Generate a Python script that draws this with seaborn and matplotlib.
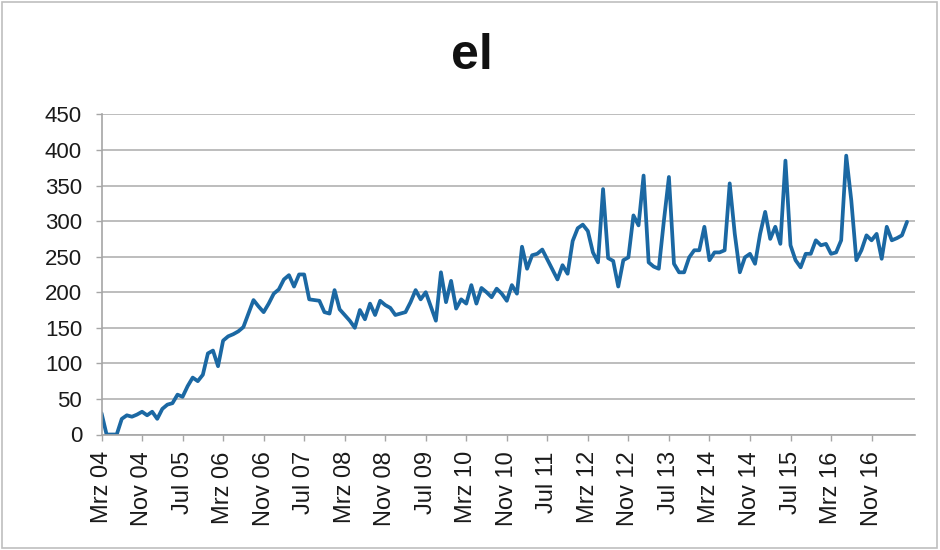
import pandas as pd
import matplotlib
matplotlib.use('Agg')
import matplotlib.pyplot as plt
import seaborn as sns
from matplotlib.patches import Rectangle

# monatswerte ab Mrz 04
werte = [30, 0, 0, 0, 22, 27, 25, 28, 32, 27,
         32, 22, 36, 42, 44, 56, 53, 68, 80, 75,
         84, 114, 118, 96, 132, 138, 141, 145, 151, 170,
         189, 180, 172, 184, 198, 204, 218, 224, 208, 225,
         225, 190, 189, 188, 172, 170, 203, 176, 168, 160,
         150, 175, 162, 184, 168, 188, 182, 178, 168, 170,
         172, 186, 203, 190, 200, 180, 160, 228, 186, 216,
         177, 190, 184, 210, 184, 206, 200, 193, 205, 198,
         188, 210, 198, 264, 233, 252, 254, 260, 246, 232,
         218, 238, 226, 272, 290, 295, 286, 256, 242, 345,
         248, 244, 208, 245, 249, 308, 294, 364, 242, 236,
         233, 300, 362, 240, 228, 228, 249, 259, 259, 292,
         245, 256, 256, 259, 353, 282, 228, 249, 254, 240,
         282, 313, 275, 292, 268, 385, 266, 245, 235, 254,
         254, 273, 266, 268, 254, 256, 273, 392, 329, 245,
         259, 280, 273, 282, 247, 292, 273, 276, 280, 299]

tick_labels = ['Mrz 04', 'Nov 04', 'Jul 05', 'Mrz 06', 'Nov 06', 'Jul 07',
               'Mrz 08', 'Nov 08', 'Jul 09', 'Mrz 10', 'Nov 10', 'Jul 11',
               'Mrz 12', 'Nov 12', 'Jul 13', 'Mrz 14', 'Nov 14', 'Jul 15',
               'Mrz 16', 'Nov 16']
y_ticks = [0, 50, 100, 150, 200, 250, 300, 350, 400, 450]

dados = pd.DataFrame({'monat': range(len(werte)), 'wert': werte})

sns.set_style('white')
plt.rcParams['font.family'] = ['Liberation Sans', 'DejaVu Sans']

fig = plt.figure(figsize=(9.4, 5.5), dpi=100)
ax = fig.add_axes([0.108, 0.21, 0.865, 0.582])

sns.lineplot(data=dados, x='monat', y='wert', ax=ax, color='#1b68a3', linewidth=2.7)

ax.set_xlim(0, 160.5)
ax.set_ylim(0, 450)
ax.set_yticks(y_ticks)
ax.set_xticks(range(0, 8 * len(tick_labels), 8))
ax.set_xticklabels(tick_labels, rotation=90)
ax.set_xlabel('')
ax.set_ylabel('')

ax.grid(axis='y', color='#bdbdbd', linewidth=1.4)
ax.set_axisbelow(True)
for s in ['top', 'right']:
    ax.spines[s].set_visible(False)
ax.spines['left'].set_color('#a6a6a6')
ax.spines['bottom'].set_color('#a6a6a6')
ax.spines['left'].set_linewidth(1.2)
ax.spines['bottom'].set_linewidth(1.2)
ax.tick_params(axis='y', length=4, width=1, color='#a6a6a6', pad=10, labelsize=16, labelcolor='#1a1a1a')
ax.tick_params(axis='x', length=4, width=1, color='#a6a6a6', pad=8, labelsize=17, labelcolor='#1a1a1a', direction='out')
ax.tick_params(left=True, bottom=True)

fig.text(0.502, 0.898, 'el', ha='center', va='center', fontsize=36, fontweight='bold', color='#111111')

# rahmen um die grafik
fig.patches.append(Rectangle((0.002, 0.004), 0.995, 0.992, transform=fig.transFigure,
                             fill=False, edgecolor='#bfbfbf', linewidth=1.2))

fig.savefig('out.png', dpi=100)
